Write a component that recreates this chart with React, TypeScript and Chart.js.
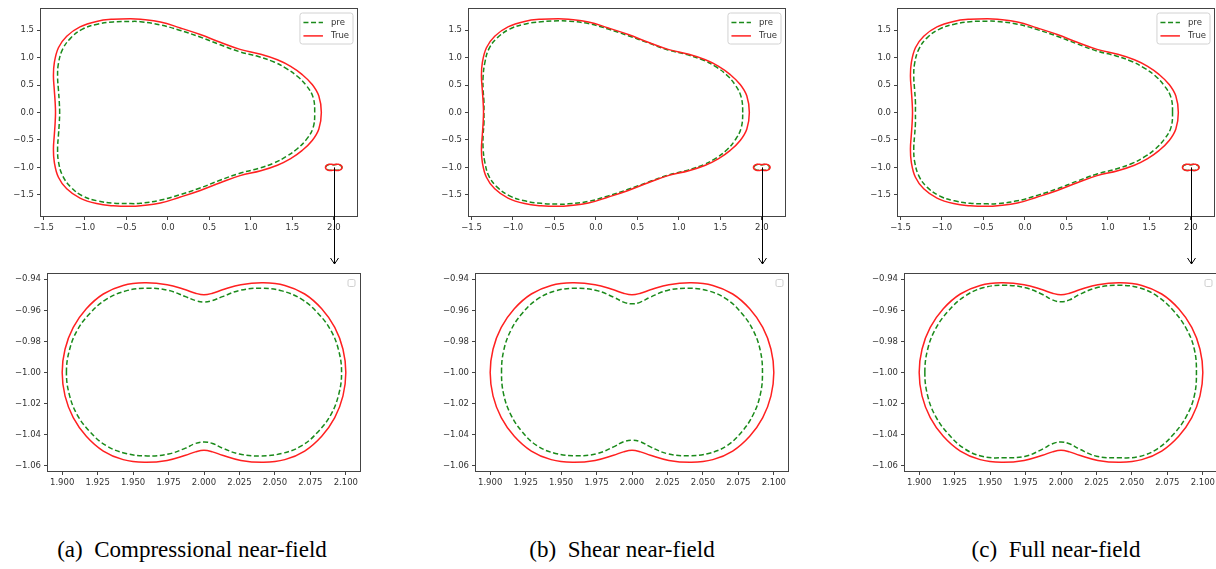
import React, { useEffect, useRef } from "react";
import { Chart, registerables } from "chart.js";

Chart.register(...registerables);

// ---------- Data ----------
// Large scatterer, true boundary (same in all panels)
const TRUE_X = [1.85, 1.82, 1.74, 1.62, 1.48, 1.32, 1.12, 0.87, 0.63, 0.39, 0.15, -0.09, -0.33, -0.45, -0.66, -0.86, -1.06, -1.22, -1.32, -1.37, -1.38, -1.37, -1.36, -1.355,
  -1.36, -1.37, -1.38, -1.37, -1.32, -1.22, -1.06, -0.86, -0.66, -0.45, -0.33, -0.09, 0.15, 0.39, 0.63, 0.87, 1.12, 1.32, 1.48, 1.62, 1.74, 1.82];
const TRUE_Y = [0, 0.30, 0.51, 0.69, 0.84, 0.96, 1.06, 1.15, 1.28, 1.42, 1.54, 1.65, 1.70, 1.71, 1.70, 1.66, 1.56, 1.39, 1.18, 0.90, 0.66, 0.42, 0.20, 0,
  -0.20, -0.42, -0.66, -0.90, -1.18, -1.39, -1.56, -1.66, -1.70, -1.71, -1.70, -1.65, -1.54, -1.42, -1.28, -1.15, -1.06, -0.96, -0.84, -0.69, -0.51, -0.30];

// Large scatterer, predictions
const PRE_A_X = [1.77, 1.75, 1.67, 1.56, 1.43, 1.28, 1.09, 0.86, 0.62, 0.38, 0.14, -0.10, -0.33, -0.45, -0.66, -0.85, -1.03, -1.17, -1.27, -1.32, -1.33, -1.32, -1.31, -1.305,
  -1.31, -1.32, -1.33, -1.32, -1.27, -1.17, -1.03, -0.85, -0.66, -0.45, -0.33, -0.10, 0.14, 0.38, 0.62, 0.86, 1.09, 1.28, 1.43, 1.56, 1.67, 1.75];
const PRE_A_Y = [0, 0.28, 0.49, 0.66, 0.80, 0.92, 1.02, 1.11, 1.24, 1.38, 1.50, 1.60, 1.655, 1.66, 1.65, 1.61, 1.52, 1.36, 1.15, 0.89, 0.65, 0.42, 0.20, 0,
  -0.20, -0.42, -0.65, -0.89, -1.15, -1.36, -1.52, -1.61, -1.65, -1.66, -1.655, -1.60, -1.50, -1.38, -1.24, -1.11, -1.02, -0.92, -0.80, -0.66, -0.49, -0.28];

const PRE_B_X = [1.77, 1.75, 1.68, 1.58, 1.45, 1.30, 1.11, 0.87, 0.63, 0.39, 0.15, -0.09, -0.33, -0.45, -0.66, -0.86, -1.04, -1.19, -1.29, -1.34, -1.36, -1.36, -1.35, -1.35,
  -1.35, -1.36, -1.36, -1.34, -1.29, -1.19, -1.04, -0.86, -0.66, -0.45, -0.33, -0.09, 0.15, 0.39, 0.63, 0.87, 1.11, 1.30, 1.45, 1.58, 1.68, 1.75];
const PRE_B_Y = [0, 0.29, 0.50, 0.68, 0.83, 0.95, 1.05, 1.14, 1.27, 1.40, 1.52, 1.62, 1.665, 1.67, 1.655, 1.61, 1.52, 1.36, 1.16, 0.90, 0.65, 0.42, 0.20, 0,
  -0.20, -0.42, -0.65, -0.90, -1.16, -1.36, -1.52, -1.61, -1.655, -1.67, -1.665, -1.62, -1.52, -1.40, -1.27, -1.14, -1.05, -0.95, -0.83, -0.68, -0.50, -0.29];

const PRE_C_X = [1.78, 1.76, 1.68, 1.57, 1.44, 1.29, 1.10, 0.87, 0.63, 0.39, 0.15, -0.09, -0.33, -0.45, -0.66, -0.85, -1.03, -1.18, -1.28, -1.33, -1.34, -1.33, -1.32, -1.32,
  -1.32, -1.33, -1.34, -1.33, -1.28, -1.18, -1.03, -0.85, -0.66, -0.45, -0.33, -0.09, 0.15, 0.39, 0.63, 0.87, 1.10, 1.29, 1.44, 1.57, 1.68, 1.76];
const PRE_C_Y = [0, 0.28, 0.49, 0.67, 0.81, 0.93, 1.03, 1.12, 1.25, 1.39, 1.51, 1.61, 1.66, 1.665, 1.655, 1.61, 1.52, 1.36, 1.15, 0.89, 0.65, 0.42, 0.20, 0,
  -0.20, -0.42, -0.65, -0.89, -1.15, -1.36, -1.52, -1.61, -1.655, -1.665, -1.66, -1.61, -1.51, -1.39, -1.25, -1.12, -1.03, -0.93, -0.81, -0.67, -0.49, -0.28];

// Small scatterer near (2, -1), true boundary
const SMALL_TRUE_X = [1.900, 1.902, 1.9078, 1.917, 1.929, 1.943, 1.958, 1.974, 1.987, 1.994, 2.000, 2.006, 2.013, 2.026, 2.042, 2.057, 2.071, 2.083, 2.0922, 2.098, 2.100,
  2.098, 2.0922, 2.083, 2.071, 2.057, 2.042, 2.026, 2.013, 2.006, 2.000, 1.994, 1.987, 1.974, 1.958, 1.943, 1.929, 1.917, 1.9078, 1.902];
const SMALL_TRUE_Y = [-1.000, -0.985, -0.971, -0.959, -0.9495, -0.944, -0.9423, -0.9435, -0.9468, -0.9490, -0.950, -0.9490, -0.9468, -0.9435, -0.9423, -0.944, -0.9495, -0.959, -0.971, -0.985, -1.000,
  -1.015, -1.029, -1.041, -1.0505, -1.056, -1.0577, -1.0565, -1.0532, -1.0510, -1.050, -1.0510, -1.0532, -1.0565, -1.0577, -1.056, -1.0505, -1.041, -1.029, -1.015];

// Small scatterer, predictions
const SMALL_PRE_A_X = [1.903, 1.905, 1.9105, 1.9195, 1.931, 1.945, 1.960, 1.975, 1.987, 1.994, 2.000, 2.006, 2.013, 2.025, 2.040, 2.055, 2.069, 2.0805, 2.0895, 2.095, 2.097,
  2.095, 2.0895, 2.0805, 2.069, 2.055, 2.040, 2.025, 2.013, 2.006, 2.000, 1.994, 1.987, 1.975, 1.960, 1.945, 1.931, 1.9195, 1.9105, 1.905];
const SMALL_PRE_A_Y = [-1.000, -0.986, -0.973, -0.962, -0.953, -0.9475, -0.9458, -0.9472, -0.9512, -0.9537, -0.9546, -0.9537, -0.9512, -0.9472, -0.9458, -0.9475, -0.953, -0.962, -0.973, -0.986, -1.000,
  -1.014, -1.027, -1.038, -1.047, -1.052, -1.0536, -1.0524, -1.0486, -1.0456, -1.0447, -1.0456, -1.0486, -1.0524, -1.0536, -1.052, -1.047, -1.038, -1.027, -1.014];

const SMALL_PRE_B_X = [1.908, 1.9095, 1.9145, 1.9225, 1.933, 1.946, 1.9605, 1.975, 1.987, 1.994, 2.000, 2.006, 2.013, 2.025, 2.040, 2.054, 2.067, 2.0775, 2.0855, 2.0905, 2.092,
  2.0905, 2.0855, 2.0775, 2.067, 2.054, 2.040, 2.025, 2.013, 2.006, 2.000, 1.994, 1.987, 1.975, 1.9605, 1.946, 1.933, 1.9225, 1.9145, 1.9095];
const SMALL_PRE_B_Y = [-1.000, -0.986, -0.973, -0.962, -0.953, -0.9475, -0.9458, -0.9472, -0.9515, -0.9547, -0.9558, -0.9547, -0.9515, -0.9472, -0.9458, -0.9475, -0.953, -0.962, -0.973, -0.986, -1.000,
  -1.014, -1.027, -1.038, -1.047, -1.052, -1.0535, -1.0522, -1.0478, -1.0445, -1.0435, -1.0445, -1.0478, -1.0522, -1.0535, -1.052, -1.047, -1.038, -1.027, -1.014];

const SMALL_PRE_C_X = [1.904, 1.906, 1.9115, 1.9205, 1.932, 1.945, 1.960, 1.975, 1.987, 1.994, 2.000, 2.006, 2.013, 2.025, 2.040, 2.055, 2.068, 2.0795, 2.0885, 2.094, 2.0955,
  2.094, 2.0885, 2.0795, 2.068, 2.055, 2.040, 2.025, 2.013, 2.006, 2.000, 1.994, 1.987, 1.975, 1.960, 1.945, 1.932, 1.9205, 1.9115, 1.906];
const SMALL_PRE_C_Y = [-1.000, -0.985, -0.972, -0.9605, -0.951, -0.9455, -0.9439, -0.9455, -0.9498, -0.9533, -0.9545, -0.9533, -0.9498, -0.9455, -0.9439, -0.9455, -0.951, -0.9605, -0.972, -0.985, -1.000,
  -1.015, -1.028, -1.0395, -1.049, -1.054, -1.0548, -1.0538, -1.0492, -1.0458, -1.0446, -1.0458, -1.0492, -1.0538, -1.0548, -1.054, -1.049, -1.0395, -1.028, -1.015];

// Ticks
const TOP_X_TICKS = [-1.5, -1.0, -0.5, 0.0, 0.5, 1.0, 1.5, 2.0];
const TOP_X_LABELS = ["−1.5", "−1.0", "−0.5", "0.0", "0.5", "1.0", "1.5", "2.0"];
const TOP_Y_TICKS = [-1.5, -1.0, -0.5, 0.0, 0.5, 1.0, 1.5];
const TOP_Y_LABELS = ["−1.5", "−1.0", "−0.5", "0.0", "0.5", "1.0", "1.5"];
const BOT_X_TICKS = [1.9, 1.925, 1.95, 1.975, 2.0, 2.025, 2.05, 2.075, 2.1];
const BOT_X_LABELS = ["1.900", "1.925", "1.950", "1.975", "2.000", "2.025", "2.050", "2.075", "2.100"];
const BOT_Y_TICKS = [-1.06, -1.04, -1.02, -1.0, -0.98, -0.96, -0.94];
const BOT_Y_LABELS = ["−1.06", "−1.04", "−1.02", "−1.00", "−0.98", "−0.96", "−0.94"];

const SERIES_LABELS = ["pre", "True"];
const CAPTIONS = ["(a)  Compressional near-field", "(b)  Shear near-field", "(c)  Full near-field"];
const ARROW_POINT = { x: 2.0, y: -1.0 };

// ---------- Styling ----------
const GREEN = "#1a8a1a";
const RED = "#ff2020";
const FONT = "DejaVu Sans";
const TICK_COLOR = "#333";
const DASH = [5, 2.6];
const HIDDEN = "rgba(0,0,0,0)";

// closed loop: [last, p0..p(n-1), p0, p1]; the first and last segments are hidden,
// so every visible segment gets smooth two-sided control points.
function loop(xs: number[], ys: number[]) {
  const pts = xs.map((x, i) => ({ x, y: ys[i] }));
  return [pts[pts.length - 1], ...pts, pts[0], pts[1]];
}

const decorPlugin = {
  id: "decor",
  afterDraw(chart: any) {
    const o = chart.options.plugins.decor || {};
    const { ctx, chartArea: a } = chart;
    ctx.save();
    ctx.strokeStyle = "#444";
    ctx.lineWidth = 1;
    const l = Math.round(a.left) - 0.5, t = Math.round(a.top) - 0.5;
    const r = Math.round(a.right) + 0.5, b = Math.round(a.bottom) + 0.5;
    ctx.strokeRect(l, t, r - l, b - t);

    if (o.legend) {
      ctx.font = `8.5px "${FONT}"`;
      const tw = Math.max(...SERIES_LABELS.map((s) => ctx.measureText(s).width));
      const w = 3.5 + 19.5 + 8 + tw + 4;
      const h = 31;
      const x = r - 4.5 - w, y = t + 4.5;
      ctx.beginPath();
      (ctx as any).roundRect(x, y, w, h, 2.5);
      ctx.fillStyle = "rgba(255,255,255,0.85)";
      ctx.fill();
      ctx.strokeStyle = "#d2d2d2";
      ctx.stroke();
      const rows = [
        { label: SERIES_LABELS[0], color: GREEN, dash: DASH },
        { label: SERIES_LABELS[1], color: RED, dash: [] as number[] },
      ];
      rows.forEach((row, i) => {
        const yy = y + 9.5 + i * 13.4;
        ctx.beginPath();
        ctx.setLineDash(row.dash);
        ctx.strokeStyle = row.color;
        ctx.lineWidth = 1.5;
        ctx.moveTo(x + 3.5, yy);
        ctx.lineTo(x + 23, yy);
        ctx.stroke();
        ctx.setLineDash([]);
        ctx.fillStyle = TICK_COLOR;
        ctx.textBaseline = "middle";
        ctx.textAlign = "left";
        ctx.fillText(row.label, x + 31, yy);
      });
    }
    if (o.emptyLegend) {
      ctx.beginPath();
      (ctx as any).roundRect(r - 5.5 - 7, t + 6, 7, 7, 1.5);
      ctx.fillStyle = "#fff";
      ctx.fill();
      ctx.strokeStyle = "#cfcfcf";
      ctx.lineWidth = 1;
      ctx.stroke();
    }
    if (o.arrow) {
      const ax = Math.round(chart.scales.x.getPixelForValue(ARROW_POINT.x)) + 0.5;
      const ay = chart.scales.y.getPixelForValue(ARROW_POINT.y);
      const end = chart.height - 2;
      ctx.strokeStyle = "#000";
      ctx.lineWidth = 1;
      ctx.beginPath();
      ctx.moveTo(ax, ay);
      ctx.lineTo(ax, end);
      ctx.moveTo(ax - 4, end - 6);
      ctx.lineTo(ax, end);
      ctx.lineTo(ax + 4, end - 6);
      ctx.stroke();
    }
    ctx.restore();
  },
};

function axis(min: number, max: number, ticks: number[], labels: string[], size: number, isX: boolean) {
  return {
    type: "linear",
    min,
    max,
    afterBuildTicks: (s: any) => {
      s.ticks = ticks.map((v) => ({ value: v }));
    },
    afterFit: (s: any) => {
      if (isX) s.height = size;
      else s.width = size;
    },
    ticks: {
      autoSkip: false,
      maxRotation: 0,
      padding: 3,
      color: TICK_COLOR,
      font: { family: FONT, size: 8.5 },
      callback: (_v: any, i: number) => labels[i],
    },
    grid: { drawOnChartArea: false, drawTicks: true, tickLength: 4, color: "#444", lineWidth: 1 },
    border: { display: false },
  };
}

function lineDs(pts: any[], color: string, dashed: boolean, order: number) {
  const last = pts.length - 1;
  return {
    data: pts,
    showLine: true,
    borderColor: color,
    backgroundColor: color,
    borderWidth: 1.5,
    borderDash: dashed ? DASH : [],
    pointRadius: 0,
    tension: 0.4,
    fill: false,
    order,
    segment: {
      borderColor: (c: any) => (c.p0DataIndex === 0 || c.p1DataIndex === last ? HIDDEN : undefined),
    },
  };
}

function topConfig(preX: number[], preY: number[], spX: number[], spY: number[]) {
  return {
    type: "scatter",
    data: {
      datasets: [
        { label: SERIES_LABELS[0], ...lineDs(loop(preX, preY), GREEN, true, 2) },
        { label: SERIES_LABELS[1], ...lineDs(loop(TRUE_X, TRUE_Y), RED, false, 1) },
        lineDs(loop(spX, spY), GREEN, true, 2),
        lineDs(loop(SMALL_TRUE_X, SMALL_TRUE_Y), RED, false, 1),
      ],
    },
    options: {
      responsive: false,
      animation: false,
      devicePixelRatio: 1,
      events: [],
      layout: { padding: { top: 9, right: 43, bottom: 0, left: 0 } },
      plugins: { legend: { display: false }, tooltip: { enabled: false }, decor: { legend: true, arrow: true } },
      scales: {
        x: axis(-1.53, 2.28, TOP_X_TICKS, TOP_X_LABELS, 50, true),
        y: axis(-1.886, 1.886, TOP_Y_TICKS, TOP_Y_LABELS, 41, false),
      },
    },
    plugins: [decorPlugin],
  };
}

function bottomConfig(spX: number[], spY: number[]) {
  return {
    type: "scatter",
    data: {
      datasets: [
        lineDs(loop(spX, spY), GREEN, true, 2),
        lineDs(loop(SMALL_TRUE_X, SMALL_TRUE_Y), RED, false, 1),
      ],
    },
    options: {
      responsive: false,
      animation: false,
      devicePixelRatio: 1,
      events: [],
      layout: { padding: { top: 2, right: 40, bottom: 0, left: 0 } },
      plugins: { legend: { display: false }, tooltip: { enabled: false }, decor: { emptyLegend: true } },
      scales: {
        x: axis(1.89, 2.11, BOT_X_TICKS, BOT_X_LABELS, 29, true),
        y: axis(-1.0633, -0.9367, BOT_Y_TICKS, BOT_Y_LABELS, 48, false),
      },
    },
    plugins: [decorPlugin],
  };
}

function ChartCanvas({ left, top, width, height, config }: any) {
  const ref = useRef<HTMLCanvasElement>(null);
  useEffect(() => {
    const chart = new Chart(ref.current as HTMLCanvasElement, config);
    return () => chart.destroy();
  }, []);
  return (
    <canvas
      ref={ref}
      width={width}
      height={height}
      style={{ position: "absolute", left, top, width, height }}
    />
  );
}

const COLUMN_LEFT = [0, 428, 857];
const CAPTION_CENTER = [192, 622, 1056];

export default function App() {
  const preBig = [[PRE_A_X, PRE_A_Y], [PRE_B_X, PRE_B_Y], [PRE_C_X, PRE_C_Y]];
  const preSmall = [[SMALL_PRE_A_X, SMALL_PRE_A_Y], [SMALL_PRE_B_X, SMALL_PRE_B_Y], [SMALL_PRE_C_X, SMALL_PRE_C_Y]];
  return (
    <div style={{ position: "absolute", left: 0, top: 0, width: 1216, height: 569, overflow: "hidden", background: "#fff" }}>
      {COLUMN_LEFT.map((cl, i) => (
        <React.Fragment key={i}>
          <ChartCanvas left={cl} top={0} width={400} height={266}
            config={topConfig(preBig[i][0], preBig[i][1], preSmall[i][0], preSmall[i][1])} />
          <ChartCanvas left={cl} top={266} width={400} height={234}
            config={bottomConfig(preSmall[i][0], preSmall[i][1])} />
          <div style={{
            position: "absolute", left: CAPTION_CENTER[i] - 200, width: 400, top: 537, height: 26,
            textAlign: "center", fontFamily: '"Liberation Serif", serif', fontSize: 23, lineHeight: "26px",
            color: "#000", whiteSpace: "pre",
          }}>{CAPTIONS[i]}</div>
        </React.Fragment>
      ))}
    </div>
  );
}
